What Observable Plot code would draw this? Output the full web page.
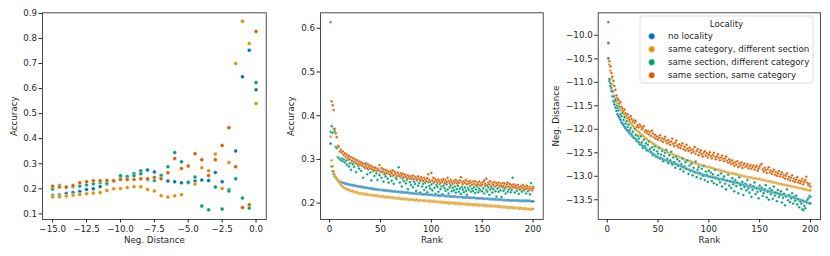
<!DOCTYPE html>
<html>
<head>
<meta charset="utf-8">
<script src="https://cdn.jsdelivr.net/npm/d3@7"></script>
<script src="https://cdn.jsdelivr.net/npm/@observablehq/plot@0.6"></script>
<style>
  html, body { margin: 0; padding: 0; background: #fff; }
  #wrap { position: relative; width: 830px; height: 256px; overflow: hidden; font-family: "DejaVu Sans", sans-serif; }
  #wrap > svg, #wrap > figure { position: absolute; top: 0; margin: 0; }
</style>
</head>
<body>
<div id="wrap"></div>
<script>
// ---------- categories ----------
const seriesNames = ["no locality", "same category, different section", "same section, different category", "same section, same category"];
const seriesColors = ["#0173b2", "#de8f05", "#029e73", "#d55e00"];
const legendTitle = "Locality";

// ---------- panel 1: accuracy vs negative distance ----------
const dist1 = [-15,-14.5,-14,-13.5,-13,-12.5,-12,-11.5,-11,-10.5,-10,-9.5,-9,-8.5,-8,-7.5,-7,-6.5,-6,-5.5,-5,-4.5,-4,-3.5,-3,-2.5,-2,-1.5,-1,-0.5,0];
const p1NoLocality = [.173,.175,.181,.185,.189,.197,.200,.209,.219,.230,.245,.243,.260,.271,.275,.267,.242,.231,.228,.224,.225,.231,.235,.233,.265,.228,.196,.351,.647,.753,.595];
const p1SameCatDiffSec = [.167,.168,.171,.175,.177,.180,.183,.185,.193,.200,.201,.205,.208,.208,.197,.191,.172,.167,.172,.176,.224,.219,.284,.272,.339,.201,.305,.700,.869,.780,.540];
const p1SameSecDiffCat = [.199,.213,.205,.208,.211,.216,.220,.225,.223,.231,.252,.249,.252,.260,.236,.233,.253,.288,.345,.308,.226,.247,.131,.116,.207,.119,.191,.240,.163,.123,.624];
const p1SameSecSameCat = [.210,.207,.207,.213,.224,.228,.232,.232,.233,.232,.237,.237,.237,.240,.240,.245,.240,.264,.321,.281,.291,.340,.316,.253,.316,.373,.444,.288,.125,.136,.828];
const p1XTicks = [-15,-12.5,-10,-7.5,-5,-2.5,0];
const p1YTicks = [0.1,0.2,0.3,0.4,0.5,0.6,0.7,0.8,0.9];

// ---------- panel 2: accuracy vs rank ----------
const ranks = d3.range(1, 201);
const p2NoLocality = [
.336,.284,.273,.266,.261,.258,.255,.253,.251,.249,
.248,.247,.246,.246,.245,.244,.244,.243,.243,.242,
.242,.241,.241,.240,.240,.239,.239,.238,.238,.237,
.237,.237,.236,.236,.235,.235,.235,.234,.234,.233,
.233,.233,.232,.232,.232,.231,.231,.231,.230,.230,
.230,.230,.229,.229,.229,.229,.228,.228,.228,.228,
.227,.227,.227,.227,.226,.226,.226,.226,.225,.225,
.225,.225,.224,.224,.224,.224,.224,.223,.223,.223,
.223,.222,.222,.222,.222,.221,.221,.221,.221,.221,
.220,.220,.220,.220,.220,.220,.219,.219,.219,.219,
.219,.218,.218,.218,.218,.218,.217,.217,.217,.217,
.217,.217,.216,.216,.216,.216,.216,.216,.215,.215,
.215,.215,.215,.215,.214,.214,.214,.214,.214,.214,
.213,.213,.213,.213,.213,.213,.212,.212,.212,.212,
.212,.212,.212,.211,.211,.211,.211,.211,.211,.211,
.210,.210,.210,.210,.210,.210,.209,.209,.209,.209,
.209,.209,.208,.208,.208,.208,.208,.208,.208,.207,
.207,.207,.207,.207,.207,.207,.206,.206,.206,.206,
.206,.206,.206,.206,.206,.205,.205,.205,.205,.205,
.205,.205,.205,.205,.205,.205,.205,.204,.204,.204];
const p2SameCatDiffSec = [
.352,.298,.284,.272,.265,.260,.256,.252,.248,.245,
.242,.239,.238,.235,.234,.233,.231,.232,.229,.229,
.228,.227,.228,.225,.226,.224,.225,.223,.222,.223,
.222,.221,.222,.220,.221,.219,.220,.218,.219,.219,
.218,.219,.217,.218,.216,.217,.217,.215,.216,.216,
.215,.214,.216,.214,.213,.215,.213,.214,.212,.213,
.212,.213,.211,.212,.212,.210,.211,.212,.210,.209,
.211,.210,.209,.210,.208,.210,.209,.208,.207,.209,
.208,.207,.208,.206,.207,.208,.206,.205,.207,.206,
.206,.205,.206,.204,.206,.205,.204,.205,.203,.205,
.204,.203,.205,.203,.202,.204,.203,.202,.203,.201,
.203,.201,.202,.200,.202,.201,.199,.202,.200,.201,
.199,.200,.201,.198,.200,.199,.198,.200,.197,.199,
.198,.199,.197,.198,.196,.199,.197,.196,.198,.196,
.197,.195,.198,.196,.195,.197,.194,.196,.195,.196,
.194,.196,.195,.193,.195,.194,.193,.195,.192,.194,
.193,.192,.194,.192,.193,.191,.193,.192,.190,.192,
.191,.192,.190,.191,.189,.191,.190,.189,.191,.189,
.190,.188,.190,.189,.188,.189,.187,.189,.188,.187,
.188,.186,.188,.187,.186,.187,.185,.187,.186,.187];
const p2SameSecDiffCat = [
.363,.376,.361,.370,.365,.328,.326,.305,.303,.301,
.298,.302,.296,.300,.293,.297,.288,.299,.284,.291,
.276,.294,.289,.283,.296,.271,.290,.285,.279,.292,
.274,.288,.258,.283,.280,.291,.266,.277,.285,.270,
.252,.281,.273,.262,.279,.268,.253,.276,.264,.271,
.258,.270,.249,.266,.261,.274,.256,.247,.268,.262,
.251,.263,.244,.271,.258,.255,.262,.282,.247,.259,
.238,.256,.250,.262,.245,.253,.232,.258,.248,.241,
.255,.236,.249,.244,.228,.252,.240,.246,.224,.251,
.238,.244,.230,.247,.236,.225,.248,.239,.233,.243,
.229,.246,.235,.221,.241,.237,.226,.244,.232,.238,
.220,.240,.234,.228,.243,.231,.222,.236,.241,.227,
.235,.229,.238,.224,.232,.240,.226,.233,.221,.237,
.231,.225,.236,.228,.219,.234,.230,.239,.226,.233,
.228,.236,.223,.231,.238,.225,.233,.229,.240,.227,
.234,.222,.239,.230,.226,.236,.219,.231,.235,.224,
.232,.238,.227,.215,.233,.226,.240,.229,.214,.236,
.228,.233,.222,.237,.226,.231,.242,.225,.230,.258,
.235,.224,.239,.228,.233,.221,.236,.230,.226,.240,
.229,.234,.222,.238,.227,.232,.220,.246,.231,.237];
const p2SameSecSameCat = [
.614,.433,.424,.413,.370,.360,.351,.331,.329,.318,
.322,.315,.318,.310,.314,.306,.311,.303,.308,.300,
.305,.297,.303,.294,.300,.291,.298,.289,.295,.287,
.293,.286,.291,.282,.289,.284,.280,.288,.283,.279,
.285,.277,.282,.276,.281,.274,.279,.275,.287,.272,
.280,.273,.277,.270,.276,.268,.274,.271,.266,.273,
.269,.275,.264,.271,.267,.262,.270,.265,.261,.268,
.263,.267,.259,.265,.261,.257,.264,.260,.256,.262,
.258,.263,.255,.260,.257,.253,.261,.256,.252,.259,
.255,.251,.258,.254,.250,.257,.266,.253,.249,.269,
.252,.258,.248,.255,.251,.247,.254,.250,.246,.253,
.249,.255,.245,.252,.248,.258,.250,.246,.253,.249,
.244,.251,.247,.253,.245,.250,.246,.252,.259,.248,
.244,.250,.246,.253,.243,.249,.245,.251,.247,.242,
.249,.244,.250,.241,.247,.243,.249,.240,.246,.242,
.248,.252,.244,.256,.241,.247,.243,.250,.240,.246,
.242,.248,.238,.245,.241,.247,.237,.244,.240,.246,
.239,.245,.236,.243,.247,.238,.244,.235,.241,.237,
.243,.236,.240,.234,.242,.237,.231,.239,.235,.241,
.233,.238,.232,.240,.235,.230,.237,.233,.229,.234];
const rankTicks = [0,50,100,150,200];
const p2YTicks = [0.2,0.3,0.4,0.5,0.6];

// ---------- panel 3: negative distance vs rank ----------
const p3NoLocality = [
-10.49,-10.97,-11.08,-11.18,-11.30,-11.40,-11.47,-11.54,-11.61,-11.68,
-11.72,-11.76,-11.80,-11.85,-11.88,-11.91,-11.95,-11.98,-12.01,-12.03,
-12.06,-12.08,-12.11,-12.13,-12.15,-12.17,-12.19,-12.21,-12.24,-12.26,
-12.28,-12.30,-12.32,-12.34,-12.36,-12.37,-12.39,-12.41,-12.43,-12.45,
-12.46,-12.48,-12.49,-12.51,-12.52,-12.54,-12.55,-12.57,-12.58,-12.60,
-12.61,-12.61,-12.62,-12.63,-12.64,-12.65,-12.66,-12.66,-12.67,-12.68,
-12.69,-12.70,-12.70,-12.71,-12.72,-12.73,-12.74,-12.74,-12.75,-12.76,
-12.77,-12.78,-12.79,-12.80,-12.81,-12.82,-12.83,-12.84,-12.85,-12.86,
-12.87,-12.88,-12.88,-12.89,-12.90,-12.91,-12.92,-12.92,-12.93,-12.94,
-12.95,-12.95,-12.96,-12.97,-12.97,-12.98,-12.99,-12.99,-13.00,-13.00,
-13.01,-13.01,-13.02,-13.02,-13.03,-13.03,-13.04,-13.04,-13.05,-13.05,
-13.06,-13.06,-13.07,-13.07,-13.08,-13.08,-13.09,-13.09,-13.10,-13.10,
-13.11,-13.11,-13.12,-13.12,-13.13,-13.13,-13.14,-13.14,-13.15,-13.15,
-13.16,-13.17,-13.17,-13.18,-13.19,-13.19,-13.20,-13.21,-13.21,-13.22,
-13.22,-13.23,-13.23,-13.24,-13.24,-13.25,-13.25,-13.26,-13.26,-13.27,
-13.27,-13.28,-13.28,-13.29,-13.30,-13.30,-13.31,-13.31,-13.32,-13.32,
-13.33,-13.33,-13.34,-13.35,-13.35,-13.36,-13.36,-13.37,-13.37,-13.38,
-13.38,-13.39,-13.39,-13.40,-13.40,-13.41,-13.41,-13.42,-13.42,-13.43,
-13.44,-13.44,-13.45,-13.46,-13.47,-13.47,-13.48,-13.49,-13.50,-13.50,
-13.51,-13.52,-13.53,-13.54,-13.54,-13.55,-13.56,-13.57,-13.57,-13.58];
const p3SameCatDiffSec = [
-10.15,-10.62,-10.75,-10.92,-11.05,-11.18,-11.28,-11.34,-11.40,-11.45,
-11.49,-11.53,-11.56,-11.60,-11.63,-11.66,-11.70,-11.73,-11.76,-11.80,
-11.82,-11.85,-11.87,-11.90,-11.92,-11.95,-11.97,-12.00,-12.02,-12.05,
-12.06,-12.08,-12.11,-12.12,-12.14,-12.16,-12.18,-12.19,-12.21,-12.24,
-12.24,-12.26,-12.27,-12.29,-12.30,-12.32,-12.33,-12.35,-12.36,-12.38,
-12.38,-12.40,-12.41,-12.42,-12.43,-12.45,-12.45,-12.47,-12.48,-12.50,
-12.50,-12.51,-12.52,-12.53,-12.54,-12.55,-12.56,-12.57,-12.57,-12.58,
-12.59,-12.60,-12.61,-12.62,-12.64,-12.64,-12.65,-12.66,-12.66,-12.67,
-12.68,-12.69,-12.69,-12.70,-12.71,-12.72,-12.73,-12.73,-12.74,-12.75,
-12.75,-12.76,-12.77,-12.77,-12.78,-12.78,-12.79,-12.80,-12.80,-12.80,
-12.81,-12.82,-12.82,-12.83,-12.84,-12.84,-12.85,-12.86,-12.86,-12.87,
-12.87,-12.88,-12.89,-12.89,-12.90,-12.90,-12.91,-12.92,-12.92,-12.93,
-12.93,-12.94,-12.94,-12.95,-12.94,-12.96,-12.96,-12.97,-12.97,-12.98,
-12.98,-12.99,-12.99,-13.00,-13.00,-13.01,-13.01,-13.02,-13.02,-13.03,
-13.03,-13.03,-13.04,-13.04,-13.05,-13.05,-13.05,-13.06,-13.06,-13.05,
-13.07,-13.07,-13.08,-13.08,-13.09,-13.09,-13.10,-13.10,-13.11,-13.11,
-13.12,-13.12,-13.13,-13.13,-13.14,-13.14,-13.15,-13.15,-13.16,-13.16,
-13.17,-13.17,-13.18,-13.18,-13.18,-13.19,-13.19,-13.20,-13.20,-13.21,
-13.21,-13.22,-13.22,-13.23,-13.23,-13.24,-13.24,-13.25,-13.25,-13.26,
-13.26,-13.27,-13.27,-13.28,-13.28,-13.29,-13.29,-13.30,-13.30,-13.30];
const p3SameSecDiffCat = [
-10.17,-10.93,-11.02,-11.12,-11.20,-11.30,-11.42,-11.38,-11.50,-11.55,
-11.60,-11.52,-11.68,-11.72,-11.65,-11.80,-11.74,-11.88,-11.83,-11.95,
-11.90,-12.02,-11.97,-12.10,-12.05,-12.18,-11.99,-12.12,-12.25,-12.14,
-12.20,-12.32,-12.15,-12.28,-12.40,-12.22,-12.36,-12.30,-12.45,-12.33,
-12.26,-12.42,-12.48,-12.38,-12.55,-12.44,-12.36,-12.58,-12.47,-12.52,
-12.40,-12.62,-12.54,-12.46,-12.68,-12.57,-12.50,-12.44,-12.63,-12.72,
-12.55,-12.66,-12.48,-12.75,-12.60,-12.70,-12.82,-12.58,-12.64,-12.78,
-12.68,-12.85,-12.74,-12.62,-12.90,-12.79,-12.70,-12.84,-12.66,-12.95,
-12.77,-12.88,-12.73,-12.98,-12.82,-12.91,-12.69,-13.02,-12.86,-12.80,
-12.93,-13.05,-12.84,-12.99,-12.78,-13.08,-12.90,-12.97,-13.12,-12.88,
-13.01,-12.92,-13.10,-12.96,-13.15,-12.86,-13.04,-13.18,-12.98,-13.07,
-13.13,-12.94,-13.22,-13.05,-13.00,-13.16,-13.28,-13.09,-12.97,-13.20,
-13.11,-13.25,-13.04,-13.17,-13.32,-13.08,-13.21,-13.14,-13.36,-13.02,
-13.19,-13.27,-13.12,-13.40,-13.23,-13.16,-13.30,-13.08,-13.26,-13.35,
-13.18,-13.44,-13.29,-13.21,-13.13,-13.38,-13.25,-13.33,-13.47,-13.20,
-13.31,-13.24,-13.42,-13.36,-13.28,-13.19,-13.45,-13.33,-13.50,-13.26,
-13.38,-13.30,-13.48,-13.22,-13.41,-13.35,-13.53,-13.29,-13.44,-13.39,
-13.32,-13.56,-13.46,-13.37,-13.62,-13.43,-13.28,-13.51,-13.40,-13.55,
-13.47,-13.36,-13.58,-13.44,-13.52,-13.41,-13.60,-13.49,-13.66,-13.54,
-13.58,-13.70,-13.72,-13.63,-13.68,-13.55,-13.50,-13.47,-13.42,-13.44];
const p3SameSecSameCat = [
-9.72,-10.55,-10.66,-10.80,-10.88,-10.97,-11.08,-11.16,-11.28,-11.34,
-11.38,-11.45,-11.42,-11.52,-11.56,-11.61,-11.58,-11.66,-11.70,-11.68,
-11.75,-11.80,-11.72,-11.78,-11.84,-11.81,-11.86,-11.82,-11.95,-11.91,
-11.96,-11.90,-11.94,-12.00,-11.97,-11.93,-12.05,-12.02,-12.08,-12.04,
-12.11,-12.06,-12.14,-12.03,-12.09,-12.17,-12.12,-12.20,-12.15,-12.22,
-12.18,-12.13,-12.24,-12.19,-12.27,-12.21,-12.16,-12.25,-12.30,-12.23,
-12.28,-12.33,-12.26,-12.20,-12.31,-12.36,-12.29,-12.24,-12.34,-12.38,
-12.32,-12.40,-12.35,-12.30,-12.42,-12.37,-12.45,-12.33,-12.41,-12.46,
-12.39,-12.44,-12.50,-12.43,-12.48,-12.38,-12.52,-12.46,-12.42,-12.55,
-12.49,-12.45,-12.53,-12.58,-12.50,-12.47,-12.56,-12.51,-12.60,-12.54,
-12.49,-12.57,-12.62,-12.55,-12.50,-12.59,-12.64,-12.58,-12.53,-12.61,
-12.66,-12.60,-12.56,-12.63,-12.68,-12.62,-12.58,-12.67,-12.71,-12.64,
-12.69,-12.74,-12.66,-12.72,-12.78,-12.70,-12.75,-12.68,-12.80,-12.73,
-12.77,-12.71,-12.82,-12.76,-12.73,-12.80,-12.78,-12.74,-12.83,-12.79,
-12.76,-12.84,-12.80,-12.77,-12.86,-12.81,-12.78,-12.88,-12.83,-12.79,
-12.75,-12.74,-12.85,-12.90,-12.82,-12.87,-12.93,-12.85,-12.81,-12.92,
-12.88,-12.95,-12.90,-12.86,-12.97,-12.91,-12.99,-12.94,-12.89,-13.00,
-12.96,-12.92,-13.02,-12.97,-13.05,-12.99,-12.94,-13.06,-13.01,-13.09,
-13.03,-12.98,-13.10,-13.05,-13.12,-13.07,-13.02,-13.13,-13.09,-13.15,
-13.11,-13.06,-13.17,-13.12,-13.08,-13.01,-13.14,-13.19,-13.16,-13.22];
const p3YTicks = [-10,-10.5,-11,-11.5,-12,-12.5,-13,-13.5];

// ---------- build ----------
function rows(xs, seriesValues) {
  const out = [];
  seriesValues.forEach((vals, si) => {
    vals.forEach((v, i) => out.push({x: xs[i], y: v, s: seriesNames[si]}));
  });
  return out;
}
const data1 = rows(dist1, [p1NoLocality, p1SameCatDiffSec, p1SameSecDiffCat, p1SameSecSameCat]);
const data2 = rows(ranks, [p2NoLocality, p2SameCatDiffSec, p2SameSecDiffCat, p2SameSecSameCat]);
const data3 = rows(ranks, [p3NoLocality, p3SameCatDiffSec, p3SameSecDiffCat, p3SameSecSameCat]);

const fmt1 = d3.format(".1f");
const fmt0 = d3.format("d");
const FS = 8.7;
const ink = "#262626";

function panel({data, left, width, mL, mR, xDomain, yDomain, xTicks, yTicks, xFmt, yFmt, xLabel, yLabel, yLabelDx, r, sw}) {
  const chart = Plot.plot({
    width, height: 256,
    marginLeft: mL, marginRight: mR, marginTop: 12.3, marginBottom: 37,
    style: {fontFamily: "DejaVu Sans", fontSize: FS + "px", color: ink, background: "transparent", overflow: "visible"},
    x: {domain: xDomain},
    y: {domain: yDomain},
    color: {domain: seriesNames, range: seriesColors},
    marks: [
      Plot.dot(data, {x: "x", y: "y", fill: "s", stroke: "white", strokeWidth: sw, r}),
      Plot.frame({stroke: "#3a3a3a", strokeWidth: 0.9}),
      Plot.axisX(xTicks, {tickFormat: xFmt, tickSize: 3.5, tickPadding: 2.5, fontSize: FS, stroke: ink, fill: ink, label: null}),
      Plot.axisY(yTicks, {tickFormat: yFmt, tickSize: 3.5, tickPadding: 2, fontSize: FS, stroke: ink, fill: ink, label: null}),
      Plot.text([xLabel], {text: d => d, frameAnchor: "bottom", dy: 21, lineAnchor: "middle", fontSize: FS, fill: ink}),
      Plot.text([yLabel], {text: d => d, frameAnchor: "left", dx: -yLabelDx, rotate: -90, lineAnchor: "middle", textAnchor: "middle", fontSize: FS, fill: ink})
    ]
  });
  chart.style.left = left + "px";
  document.getElementById("wrap").appendChild(chart);
}

panel({data: data1, left: 0, width: 277, mL: 42, mR: 11.3,
  xDomain: [-15.75, 0.75], yDomain: [0.0775, 0.9025],
  xTicks: p1XTicks, yTicks: p1YTicks, xFmt: fmt1, yFmt: fmt1,
  xLabel: "Neg. Distance", yLabel: "Accuracy", yLabelDx: 28.7, r: 2.0, sw: 0.5});

panel({data: data2, left: 277, width: 277, mL: 43, mR: 11.3,
  xDomain: [-8.95, 209.95], yDomain: [0.1625, 0.6355],
  xTicks: rankTicks, yTicks: p2YTicks, xFmt: fmt0, yFmt: fmt1,
  xLabel: "Rank", yLabel: "Accuracy", yLabelDx: 29, r: 1.35, sw: 0.35});

panel({data: data3, left: 554, width: 276, mL: 43.7, mR: 10,
  xDomain: [-8.95, 209.95], yDomain: [-13.92, -9.52],
  xTicks: rankTicks, yTicks: p3YTicks, xFmt: fmt0, yFmt: fmt1,
  xLabel: "Rank", yLabel: "Neg. Distance", yLabelDx: 42, r: 1.35, sw: 0.35});

// ---------- legend ----------
const leg = d3.select("#wrap").append("svg")
  .attr("width", 830).attr("height", 256)
  .style("left", "0px").style("pointer-events", "none")
  .style("font-family", "DejaVu Sans").style("font-size", FS + "px");
leg.append("rect").attr("x", 640).attr("y", 16).attr("width", 173).attr("height", 67)
  .attr("rx", 2.5).attr("fill", "white").attr("fill-opacity", 0.8)
  .attr("stroke", "#d6d6d6").attr("stroke-width", 0.8);
leg.append("text").attr("x", 726.5).attr("y", 24).attr("text-anchor", "middle")
  .attr("dominant-baseline", "central").attr("fill", ink).text(legendTitle);
const rowY = [36.3, 49.3, 62.3, 75.3];
seriesNames.forEach((n, i) => {
  leg.append("circle").attr("cx", 651.7).attr("cy", rowY[i]).attr("r", 3.2)
    .attr("fill", seriesColors[i]).attr("stroke", "white").attr("stroke-width", 0.5);
  leg.append("text").attr("x", 668).attr("y", rowY[i]).attr("dominant-baseline", "central")
    .attr("fill", ink).text(n);
});
</script>
</body>
</html>
